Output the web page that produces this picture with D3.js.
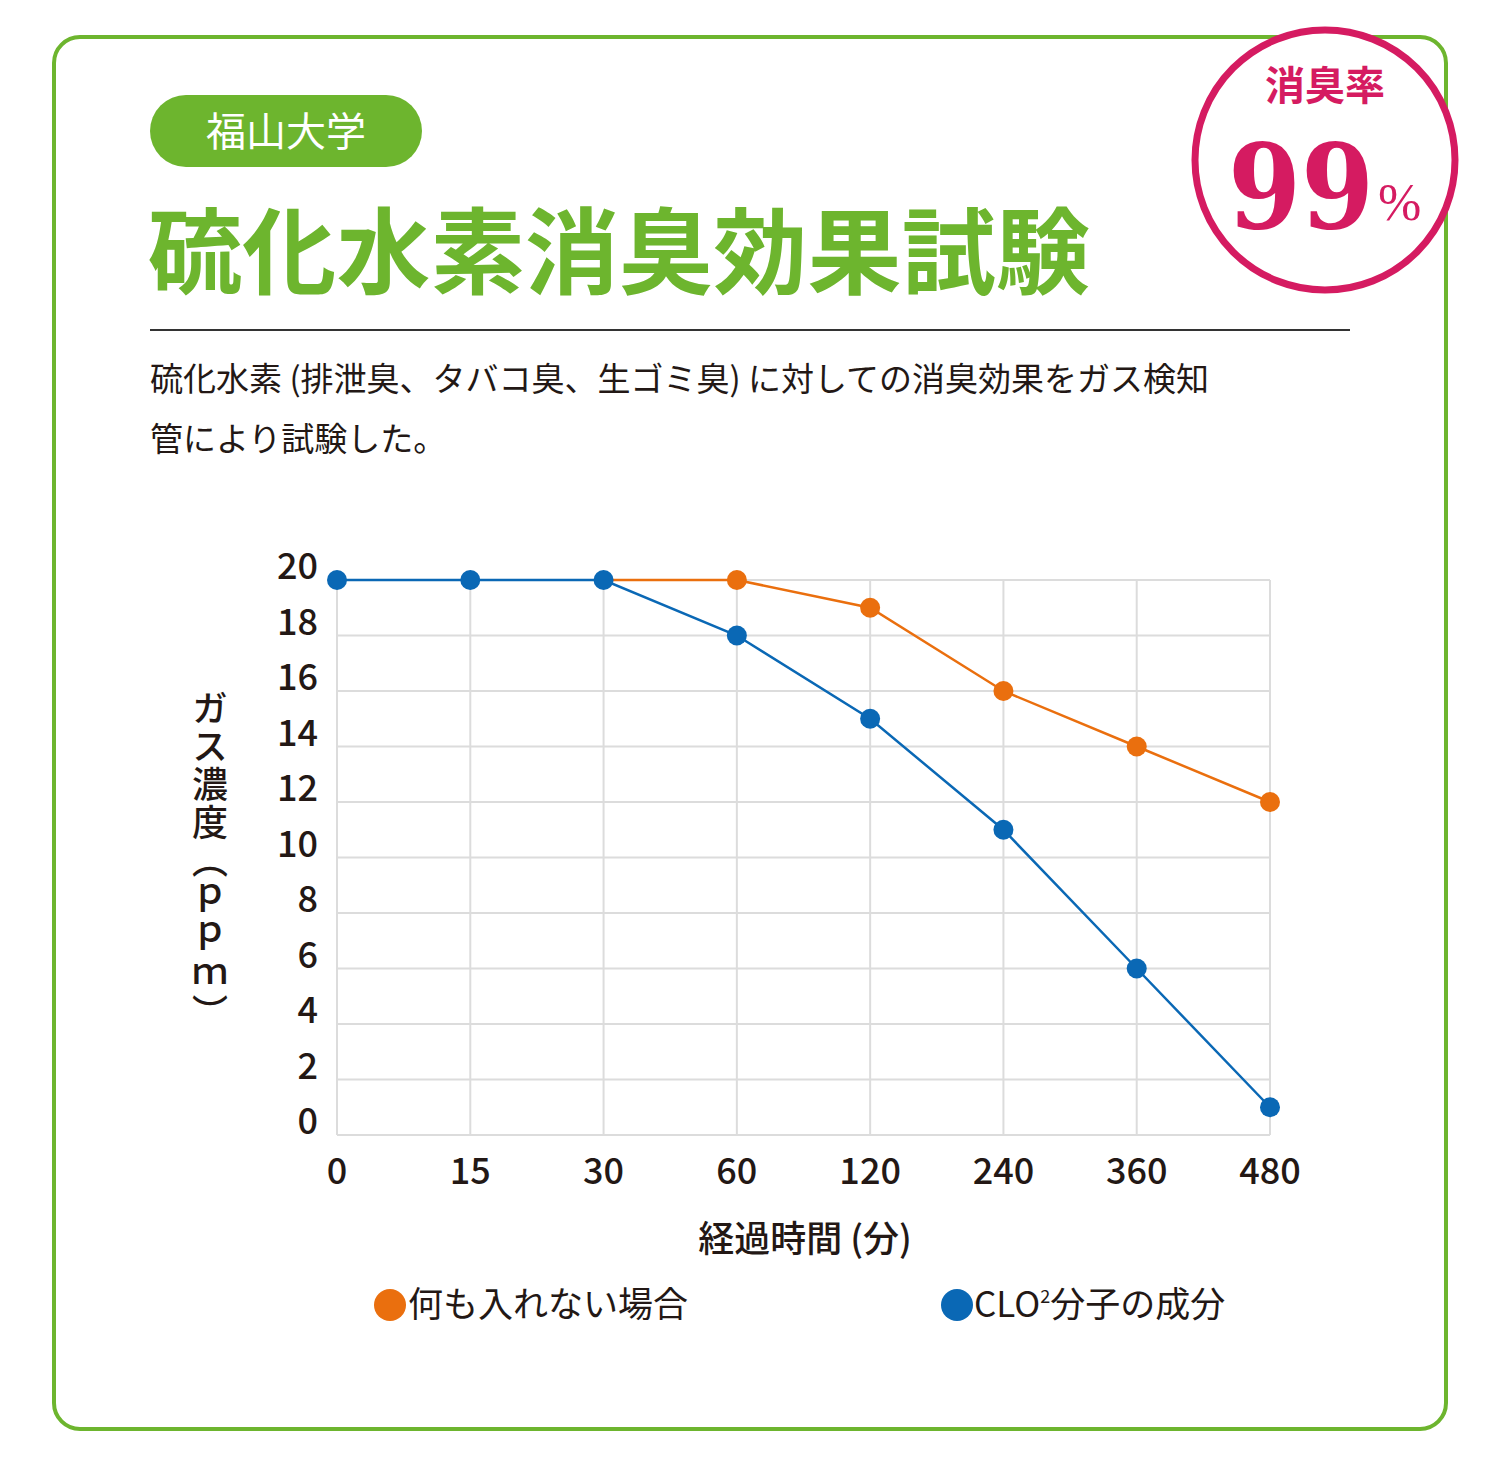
<!DOCTYPE html>
<html><head><meta charset="utf-8">
<script src="https://cdn.jsdelivr.net/npm/d3@7"></script>
<style>body{margin:0;background:#fff}text{font-family:"Noto Sans CJK JP","Noto Sans",sans-serif}</style>
</head><body><div id="renderer"></div>
<script>
var times = ['0', '15', '30', '60', '120', '240', '360', '480'];
var noneValues = [20, 20, 20, 20, 19, 16, 14, 12];
var cloValues = [20, 20, 20, 18, 15, 11, 6, 1];
var yTicks = [0, 2, 4, 6, 8, 10, 12, 14, 16, 18, 20];

var green = '#6db52e', orange = '#ea6f0e', blue = '#0a68b5', red = '#d51b61';

var svg = d3.select('#renderer').append('svg').attr('width', 1500).attr('height', 1457);

svg.append('rect').attr('x', 54).attr('y', 37).attr('width', 1392).attr('height', 1392)
  .attr('rx', 26).attr('fill', '#fff').attr('stroke', green).attr('stroke-width', 4);

svg.append('rect').attr('x', 150).attr('y', 95).attr('width', 272).attr('height', 72)
  .attr('rx', 36).attr('fill', green);
svg.append('text').attr('x', 286).attr('y', 146).attr('text-anchor', 'middle')
  .attr('fill', '#fff').style('font-size', '40px').text('福山大学');

svg.append('text').attr('x', 148).attr('y', 287).attr('fill', green)
  .style('font-size', '94px').style('font-weight', 'bold').attr('textLength', 942)
  .text('硫化水素消臭効果試験');

svg.append('line').attr('x1', 150).attr('x2', 1350).attr('y1', 330).attr('y2', 330)
  .attr('stroke', '#333').attr('stroke-width', 2);

svg.append('text').attr('x', 150).attr('y', 391).attr('fill', '#231815').style('font-size', '33px')
  .text('硫化水素 (排泄臭、タバコ臭、生ゴミ臭) に対しての消臭効果をガス検知');
svg.append('text').attr('x', 150).attr('y', 451).attr('fill', '#231815').style('font-size', '33px')
  .text('管により試験した。');

// badge
svg.append('circle').attr('cx', 1325).attr('cy', 160).attr('r', 130)
  .attr('fill', '#fff').attr('stroke', red).attr('stroke-width', 7);
svg.append('text').attr('x', 1325).attr('y', 100).attr('text-anchor', 'middle').attr('fill', red)
  .style('font-size', '40px').style('font-weight', 'bold').text('消臭率');
svg.append('text').attr('x', 1228).attr('y', 228).attr('fill', red)
  .style('font-family', '"DejaVu Serif","Liberation Serif",serif').style('font-size', '118px')
  .style('font-weight', 'bold').attr('textLength', 146).attr('lengthAdjust', 'spacingAndGlyphs').text('99');
svg.append('text').attr('x', 1378).attr('y', 220).attr('fill', red)
  .style('font-family', '"Liberation Serif",serif').style('font-size', '52px').text('%');

// chart
var x = d3.scalePoint().domain(times).range([337, 1270]);
var y = d3.scaleLinear().domain([0, 20]).range([1135, 580]);
var g = svg.append('g');

g.selectAll('.hg').data(yTicks).enter().append('line')
  .attr('x1', 337).attr('x2', 1270).attr('y1', function (d) { return y(d); }).attr('y2', function (d) { return y(d); })
  .attr('stroke', '#dcdcdc').attr('stroke-width', 2);
g.selectAll('.vg').data(times).enter().append('line')
  .attr('x1', function (d) { return x(d); }).attr('x2', function (d) { return x(d); })
  .attr('y1', 580).attr('y2', 1135).attr('stroke', '#dcdcdc').attr('stroke-width', 2);

g.selectAll('.yl').data(yTicks).enter().append('text')
  .attr('x', 318).attr('y', function (d) { return y(d) - 1; }).attr('text-anchor', 'end')
  .attr('fill', '#231815').style('font-size', '36px').style('font-weight', 500).text(function (d) { return d; });
g.selectAll('.xl').data(times).enter().append('text')
  .attr('x', function (d) { return x(d); }).attr('y', 1184).attr('text-anchor', 'middle')
  .attr('fill', '#231815').style('font-size', '36px').style('font-weight', 500).text(function (d) { return d; });

svg.append('text').attr('x', 805).attr('y', 1252).attr('text-anchor', 'middle').attr('fill', '#231815')
  .style('font-size', '36px').style('font-weight', 500).text('経過時間 (分)');
svg.append('text').attr('transform', 'translate(210,690)').attr('fill', '#231815')
  .style('writing-mode', 'vertical-rl').style('font-size', '36px').style('font-weight', 500)
  .attr('textLength', 340).text('ガス濃度（ｐｐｍ）');

var line = d3.line().x(function (d) { return x(d.t); }).y(function (d) { return y(d.v); });
var noneData = times.map(function (t, i) { return { t: t, v: noneValues[i] }; });
var cloData = times.map(function (t, i) { return { t: t, v: cloValues[i] }; });

g.append('path').datum(noneData.slice(2)).attr('d', line).attr('fill', 'none')
  .attr('stroke', orange).attr('stroke-width', 2.5);
g.selectAll('.od').data(noneData.slice(3)).enter().append('circle')
  .attr('cx', function (d) { return x(d.t); }).attr('cy', function (d) { return y(d.v); })
  .attr('r', 10).attr('fill', orange);
g.append('path').datum(cloData).attr('d', line).attr('fill', 'none')
  .attr('stroke', blue).attr('stroke-width', 2.5);
g.selectAll('.bd').data(cloData).enter().append('circle')
  .attr('cx', function (d) { return x(d.t); }).attr('cy', function (d) { return y(d.v); })
  .attr('r', 10).attr('fill', blue);

// legend
svg.append('circle').attr('cx', 390).attr('cy', 1305).attr('r', 16).attr('fill', orange);
svg.append('text').attr('x', 408).attr('y', 1317).attr('fill', '#231815').style('font-size', '35px').text('何も入れない場合');
svg.append('circle').attr('cx', 957).attr('cy', 1305).attr('r', 16).attr('fill', blue);
var t2 = svg.append('text').attr('x', 974).attr('y', 1317).attr('fill', '#231815').style('font-size', '35px');
t2.append('tspan').text('CLO');
t2.append('tspan').attr('dy', -14).style('font-size', '18px').text('2');
t2.append('tspan').attr('dy', 14).text('分子の成分');
</script></body></html>
